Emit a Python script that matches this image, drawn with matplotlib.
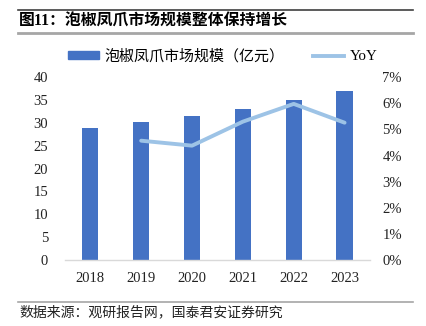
import matplotlib
matplotlib.use('Agg')
import matplotlib.pyplot as plt
from matplotlib.lines import Line2D
from matplotlib.patches import Patch
from matplotlib.ticker import FuncFormatter

years = ['2018', '2019', '2020', '2021', '2022', '2023']
market_size = [28.8, 30.1, 31.5, 33.1, 35.1, 36.9]
yoy_years = ['2019', '2020', '2021', '2022', '2023']
yoy = [4.57, 4.38, 5.30, 5.98, 5.26]

title = '图11：泡椒凤爪市场规模整体保持增长'
source = '数据来源：观研报告网，国泰君安证券研究'
bar_label = '泡椒凤爪市场规模（亿元）'
line_label = 'YoY'

fonts = ['Liberation Serif', 'Noto Sans CJK SC']
plt.rcParams['font.family'] = fonts

bar_color = '#4472C4'
line_color = '#9DC3E6'

fig = plt.figure(figsize=(4.27, 3.26), dpi=100)
ax = fig.add_axes([0.152, 0.2025, 0.7145, 0.5605])
ax2 = ax.twinx()

x = list(range(len(years)))
ax.bar(x, market_size, width=0.32, color=bar_color, zorder=2)
x_yoy = [years.index(y) for y in yoy_years]
ax2.plot(x_yoy, yoy, color=line_color, lw=2.8, solid_capstyle='round', zorder=3)

ax.set_xlim(-0.5, 5.5)
ax.set_ylim(0, 40)
ax.set_yticks(range(0, 41, 5))
ax2.set_ylim(0, 7)
ax2.set_yticks(range(0, 8))
ax2.yaxis.set_major_formatter(FuncFormatter(lambda v, p: f'{int(v)}%'))
ax.set_xticks(x)
ax.set_xticklabels(years)

for a in (ax, ax2):
    for s in a.spines.values():
        s.set_visible(False)
    a.tick_params(length=0, labelsize=10.5, colors='#222222')
ax.spines['bottom'].set_visible(True)
ax.spines['bottom'].set_color('#D9D9D9')
ax.spines['bottom'].set_linewidth(1)
ax.tick_params(axis='y', pad=12)
ax.tick_params(axis='x', pad=9)
ax2.tick_params(axis='y', pad=9)

handles = [Patch(color=bar_color), Line2D([0], [0], color=line_color, lw=2.8)]
fig.legend(handles, [bar_label, line_label], loc='center', bbox_to_anchor=(0.521, 0.828),
           ncol=2, frameon=False, handlelength=2.1, handleheight=0.45,
           columnspacing=1.9, handletextpad=0.35, prop={'family': fonts, 'size': 10.8})

# title and source decorations
fig.add_artist(Line2D([0.042, 0.967], [0.969, 0.969], color='#404040', lw=1.2))
fig.add_artist(Line2D([0.042, 0.967], [0.899, 0.899], color='#A6A6A6', lw=2))
fig.text(0.045, 0.934, title, fontsize=11.4, fontweight='bold', va='center', ha='left',
         family=fonts)
fig.add_artist(Line2D([0.042, 0.967], [0.074, 0.074], color='#A6A6A6', lw=1.2))
fig.text(0.045, 0.043, source, fontsize=10, va='center', ha='left', family=fonts,
         color='#222222')

fig.savefig('out.png', dpi=100)
